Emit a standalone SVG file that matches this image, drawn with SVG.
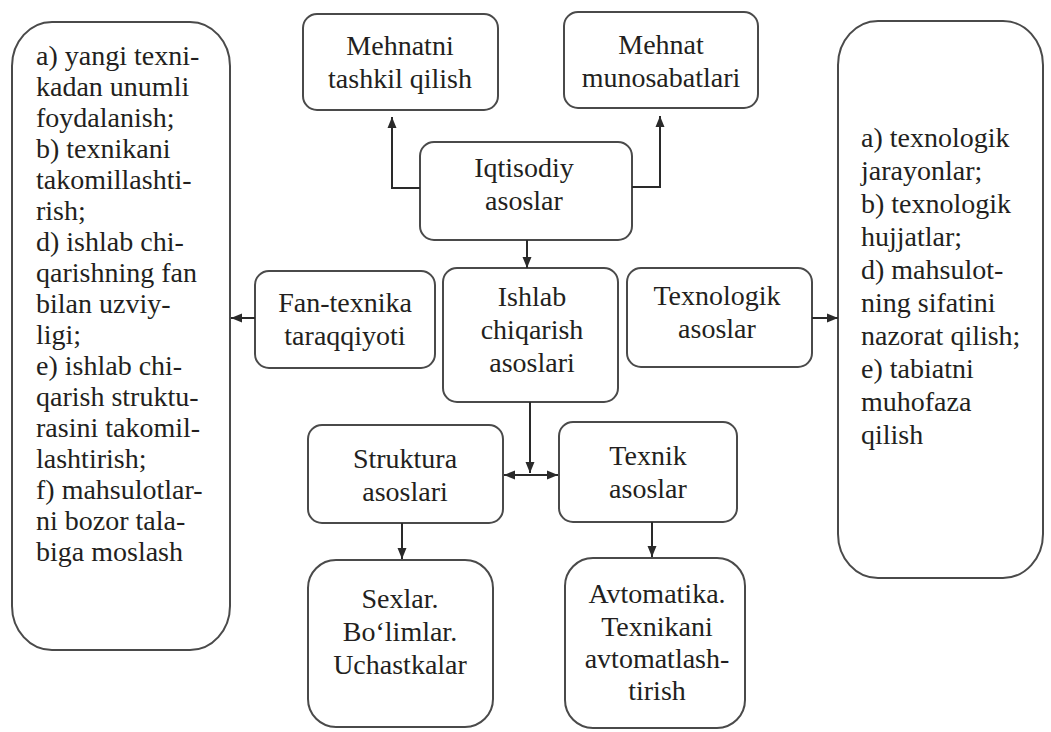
<svg xmlns="http://www.w3.org/2000/svg" width="1051" height="732" viewBox="0 0 1051 732">
<defs>
<marker id="ah" markerUnits="userSpaceOnUse" markerWidth="12" markerHeight="10" refX="11" refY="5" orient="auto">
<path d="M0,0.5 L11,5 L0,9.5 z" fill="#2a2a2a"/>
</marker>
<marker id="ahs" markerUnits="userSpaceOnUse" markerWidth="12" markerHeight="10" refX="1" refY="5" orient="auto">
<path d="M12,0.5 L1,5 L12,9.5 z" fill="#2a2a2a"/>
</marker>
</defs>
<style>
.box{fill:#fff;stroke:#4a4a4a;stroke-width:2}
.ln{fill:none;stroke:#2a2a2a;stroke-width:2}
.c{text-anchor:middle}
</style>
<rect width="1051" height="732" fill="#fff"/>

<g id="left-list" fill="#231f20">
<rect class="box" x="12" y="22" width="218" height="628" rx="40" ry="44"/>
<text font-family="Liberation Serif" font-size="28" x="36" y="65">a) yangi texni-</text>
<text font-family="Liberation Serif" font-size="28" x="36" y="96">kadan unumli</text>
<text font-family="Liberation Serif" font-size="28" x="36" y="127">foydalanish;</text>
<text font-family="Liberation Serif" font-size="28" x="36" y="158">b) texnikani</text>
<text font-family="Liberation Serif" font-size="28" x="36" y="189">takomillashti-</text>
<text font-family="Liberation Serif" font-size="28" x="36" y="220">rish;</text>
<text font-family="Liberation Serif" font-size="28" x="36" y="251">d) ishlab chi-</text>
<text font-family="Liberation Serif" font-size="28" x="36" y="282">qarishning fan</text>
<text font-family="Liberation Serif" font-size="28" x="36" y="313">bilan uzviy-</text>
<text font-family="Liberation Serif" font-size="28" x="36" y="344">ligi;</text>
<text font-family="Liberation Serif" font-size="28" x="36" y="375">e) ishlab chi-</text>
<text font-family="Liberation Serif" font-size="28" x="36" y="406">qarish struktu-</text>
<text font-family="Liberation Serif" font-size="28" x="36" y="437">rasini takomil-</text>
<text font-family="Liberation Serif" font-size="28" x="36" y="468">lashtirish;</text>
<text font-family="Liberation Serif" font-size="28" x="36" y="499">f) mahsulotlar-</text>
<text font-family="Liberation Serif" font-size="28" x="36" y="530">ni bozor tala-</text>
<text font-family="Liberation Serif" font-size="28" x="36" y="561">biga moslash</text>
</g>

<g id="mehnatni" fill="#231f20">
<rect class="box" x="303" y="14" width="195" height="96" rx="14"/>
<text class="c" font-family="Liberation Serif" font-size="28" x="400" y="55">Mehnatni</text>
<text class="c" font-family="Liberation Serif" font-size="28" x="400" y="88">tashkil qilish</text>
</g>

<g id="mehnat" fill="#231f20">
<rect class="box" x="564" y="12" width="194" height="96" rx="14"/>
<text class="c" font-family="Liberation Serif" font-size="28" x="661" y="54">Mehnat</text>
<text class="c" font-family="Liberation Serif" font-size="28" x="661" y="87">munosabatlari</text>
</g>

<g id="iqtisodiy" fill="#231f20">
<rect class="box" x="420" y="142" width="212" height="98" rx="14"/>
<text class="c" font-family="Liberation Serif" font-size="28" x="524" y="177">Iqtisodiy</text>
<text class="c" font-family="Liberation Serif" font-size="28" x="524" y="210">asoslar</text>
</g>

<g id="fan" fill="#231f20">
<rect class="box" x="255" y="271" width="180" height="97" rx="14"/>
<text class="c" font-family="Liberation Serif" font-size="28" x="345" y="312">Fan-texnika</text>
<text class="c" font-family="Liberation Serif" font-size="28" x="345" y="345">taraqqiyoti</text>
</g>

<g id="ishlab" fill="#231f20">
<rect class="box" x="443" y="268" width="175" height="134" rx="14"/>
<text class="c" font-family="Liberation Serif" font-size="28" x="532" y="306">Ishlab</text>
<text class="c" font-family="Liberation Serif" font-size="28" x="532" y="339">chiqarish</text>
<text class="c" font-family="Liberation Serif" font-size="28" x="532" y="372">asoslari</text>
</g>

<g id="texnologik" fill="#231f20">
<rect class="box" x="627" y="268" width="185" height="99" rx="14"/>
<text class="c" font-family="Liberation Serif" font-size="28" x="717" y="305">Texnologik</text>
<text class="c" font-family="Liberation Serif" font-size="28" x="717" y="338">asoslar</text>
</g>

<g id="right-list" fill="#231f20">
<rect class="box" x="838" y="21" width="205" height="557" rx="40" ry="44"/>
<text font-family="Liberation Serif" font-size="28" x="861" y="147">a) texnologik</text>
<text font-family="Liberation Serif" font-size="28" x="861" y="180">jarayonlar;</text>
<text font-family="Liberation Serif" font-size="28" x="861" y="213">b) texnologik</text>
<text font-family="Liberation Serif" font-size="28" x="861" y="246">hujjatlar;</text>
<text font-family="Liberation Serif" font-size="28" x="861" y="279">d) mahsulot-</text>
<text font-family="Liberation Serif" font-size="28" x="861" y="312">ning sifatini</text>
<text font-family="Liberation Serif" font-size="28" x="861" y="345">nazorat qilish;</text>
<text font-family="Liberation Serif" font-size="28" x="861" y="378">e) tabiatni</text>
<text font-family="Liberation Serif" font-size="28" x="861" y="411">muhofaza</text>
<text font-family="Liberation Serif" font-size="28" x="861" y="444">qilish</text>
</g>

<g id="struktura" fill="#231f20">
<rect class="box" x="308" y="425" width="195" height="98" rx="14"/>
<text class="c" font-family="Liberation Serif" font-size="28" x="405" y="468">Struktura</text>
<text class="c" font-family="Liberation Serif" font-size="28" x="405" y="501">asoslari</text>
</g>

<g id="texnik" fill="#231f20">
<rect class="box" x="559" y="422" width="178" height="100" rx="14"/>
<text class="c" font-family="Liberation Serif" font-size="28" x="648" y="465">Texnik</text>
<text class="c" font-family="Liberation Serif" font-size="28" x="648" y="498">asoslar</text>
</g>

<g id="sexlar" fill="#231f20">
<rect class="box" x="308" y="560" width="185" height="167" rx="28"/>
<text class="c" font-family="Liberation Serif" font-size="28" x="400" y="608">Sexlar.</text>
<text class="c" font-family="Liberation Serif" font-size="28" x="400" y="641">Bo‘limlar.</text>
<text class="c" font-family="Liberation Serif" font-size="28" x="400" y="674">Uchastkalar</text>
</g>

<g id="avtomatika" fill="#231f20">
<rect class="box" x="565" y="558" width="180" height="170" rx="28"/>
<text class="c" font-family="Liberation Serif" font-size="28" x="657" y="603">Avtomatika.</text>
<text class="c" font-family="Liberation Serif" font-size="28" x="657" y="636">Texnikani</text>
<text class="c" font-family="Liberation Serif" font-size="28" x="657" y="668">avtomatlash-</text>
<text class="c" font-family="Liberation Serif" font-size="28" x="657" y="700">tirish</text>
</g>

<g id="connectors">
<path class="ln" d="M420,188 H392 V117" marker-end="url(#ah)"/>
<path class="ln" d="M632,187 H660 V116" marker-end="url(#ah)"/>
<path class="ln" d="M527,240 V268" marker-end="url(#ah)"/>
<path class="ln" d="M255,318 H231" marker-end="url(#ah)"/>
<path class="ln" d="M812,318 H838" marker-end="url(#ah)"/>
<path class="ln" d="M530,402 V473" marker-end="url(#ah)"/>
<path class="ln" d="M504,475 H558" marker-start="url(#ahs)" marker-end="url(#ah)"/>
<path class="ln" d="M402,523 V559" marker-end="url(#ah)"/>
<path class="ln" d="M652,522 V557" marker-end="url(#ah)"/>
</g>
</svg>
